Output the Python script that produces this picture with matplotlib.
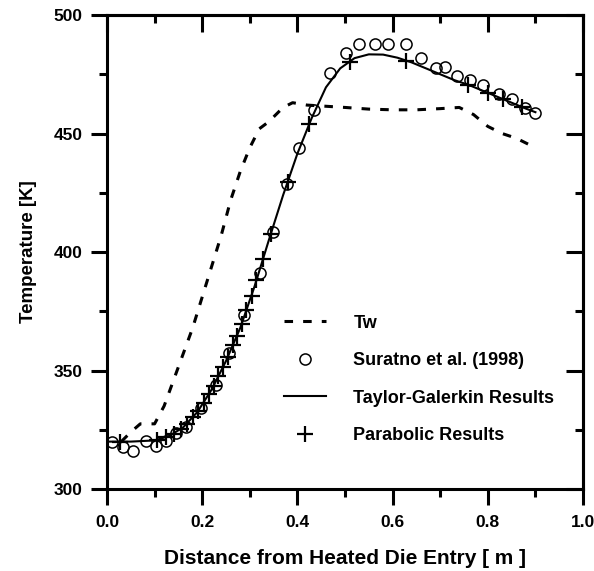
import matplotlib
matplotlib.use("Agg")
import matplotlib.pyplot as plt
from matplotlib.ticker import MultipleLocator, FormatStrFormatter

plt.rcParams['font.family'] = ['Liberation Sans', 'DejaVu Sans']
plt.rcParams['font.weight'] = 'bold'

# Wall temperature Tw along the die
tw_x = [0.03, 0.05, 0.07, 0.10, 0.12, 0.14, 0.16, 0.18, 0.20, 0.22, 0.24, 0.26,
        0.28, 0.30, 0.32, 0.34, 0.37, 0.39, 0.42, 0.46, 0.50, 0.55, 0.60, 0.65,
        0.70, 0.74, 0.77, 0.80, 0.83, 0.86, 0.89]
tw_t = [320, 324, 327.5, 327.5, 335, 346, 357, 368, 381, 394, 407, 422,
        434, 444, 452, 455, 461, 463, 462, 461.5, 461, 460.3, 460, 460,
        460.5, 461, 458, 453, 450, 448, 445]

# Suratno et al. (1998) measurements
sur_x = [0.01, 0.034, 0.055, 0.082, 0.103, 0.123, 0.145, 0.166, 0.197, 0.229,
         0.256, 0.288, 0.321, 0.349, 0.378, 0.403, 0.435, 0.468, 0.502, 0.530,
         0.563, 0.590, 0.628, 0.660, 0.691, 0.710, 0.735, 0.763, 0.790, 0.824,
         0.851, 0.878, 0.899]
sur_t = [320, 317.7, 316, 320.3, 318, 320.3, 323.6, 326, 334.2, 343.9,
         357.4, 373.4, 391.1, 408.4, 428.7, 443.9, 459.9, 475.5, 484, 487.8,
         487.8, 487.8, 487.8, 481.9, 477.6, 478, 474.3, 472.6, 470.5, 466.7,
         464.6, 460.8, 458.6]

# Taylor-Galerkin solution
tg_x = [0.0, 0.05, 0.10, 0.13, 0.16, 0.19, 0.22, 0.25, 0.28, 0.31, 0.34, 0.37,
        0.40, 0.43, 0.46, 0.49, 0.52, 0.55, 0.58, 0.61, 0.64, 0.67, 0.70, 0.73,
        0.76, 0.79, 0.82, 0.85, 0.88, 0.90]
tg_t = [320, 320, 320.5, 322.3, 326, 332.5, 342, 354, 368, 385.5, 405, 424,
        441.5, 456.5, 469.5, 477.5, 481.8, 483.4, 483.3, 482, 480, 477.5, 475, 472.5,
        470.5, 468, 465.5, 463, 460.5, 459]

# Parabolic solution
par_x = [0.027, 0.105, 0.125, 0.14, 0.155, 0.168, 0.18, 0.192, 0.203, 0.214,
         0.224, 0.234, 0.244, 0.254, 0.264, 0.273, 0.283, 0.293, 0.304, 0.314,
         0.328, 0.344, 0.38, 0.425, 0.511, 0.628, 0.758, 0.80, 0.832, 0.872]
par_t = [320, 320.8, 322, 323.3, 325.2, 327.5, 330.3, 333.1, 336.3, 340,
         343.5, 347.6, 351.6, 355.9, 360.6, 364.7, 369.7, 375.4, 381.3, 388,
         397, 407.5, 429.5, 454, 480, 480.8, 470.5, 467.2, 464.5, 461]

fig = plt.figure(figsize=(5.94, 5.71), dpi=100)
ax = fig.add_axes([0.1801, 0.1436, 0.8014, 0.8301])

ax.plot(tw_x, tw_t, color='black', lw=2.2, dashes=(2.8, 3.3), label='Tw')
ax.plot(sur_x, sur_t, linestyle='none', marker='o', ms=8, mfc='none',
        mec='black', mew=1.1, label='Suratno et al. (1998)')
ax.plot(tg_x, tg_t, color='black', lw=1.5, label='Taylor-Galerkin Results')
ax.plot(par_x, par_t, linestyle='none', marker='+', ms=11, mec='black',
        mew=1.6, label='Parabolic Results')

ax.set_xlim(0, 1.0)
ax.set_ylim(300, 500)
ax.xaxis.set_major_locator(MultipleLocator(0.2))
ax.xaxis.set_minor_locator(MultipleLocator(0.1))
ax.yaxis.set_major_locator(MultipleLocator(50))
ax.yaxis.set_minor_locator(MultipleLocator(25))
ax.xaxis.set_major_formatter(FormatStrFormatter('%.1f'))

for s in ax.spines.values():
    s.set_linewidth(2.2)

ax.tick_params(which='major', direction='out', length=11.5, width=2.2,
               labelsize=12.5, pad=7)
ax.tick_params(which='minor', direction='out', length=6, width=2.2)
ax.tick_params(axis='y', which='major', pad=6)

# inward ticks on the top and right frame
top = ax.secondary_xaxis('top')
top.xaxis.set_major_locator(MultipleLocator(0.2))
top.xaxis.set_minor_locator(MultipleLocator(0.1))
top.tick_params(which='major', direction='in', length=12, width=2.2, labeltop=False)
top.tick_params(which='minor', direction='in', length=6, width=2.2)
top.spines['top'].set_linewidth(2.2)
right = ax.secondary_yaxis('right')
right.yaxis.set_major_locator(MultipleLocator(50))
right.yaxis.set_minor_locator(MultipleLocator(25))
right.tick_params(which='major', direction='in', length=12, width=2.2, labelright=False)
right.tick_params(which='minor', direction='in', length=6, width=2.2)
right.spines['right'].set_linewidth(2.2)

ax.set_xlabel('Distance from Heated Die Entry [ m ]', fontsize=15,
              fontweight='bold', labelpad=14)
ax.set_ylabel('Temperature [K]', fontsize=13.5, fontweight='bold', labelpad=12)

leg = ax.legend(loc='upper left', bbox_to_anchor=(0.3526, 0.387), frameon=False,
                fontsize=13, handlelength=2.35, handletextpad=1.5,
                labelspacing=1.14, numpoints=1, borderpad=0)

fig.savefig('out.png', dpi=100)
